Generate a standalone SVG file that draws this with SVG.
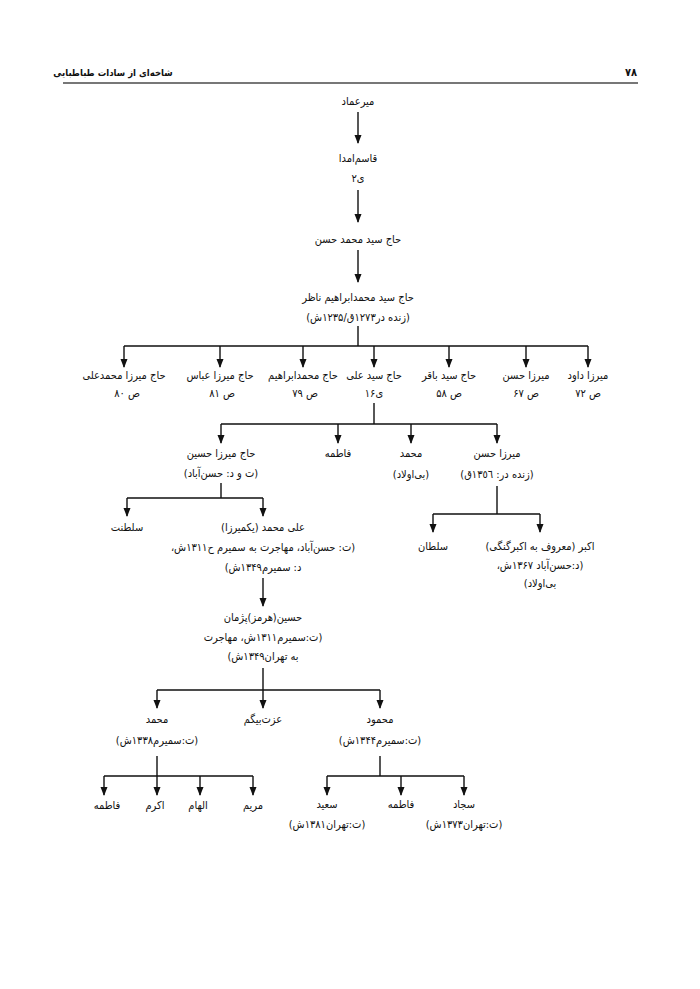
<svg xmlns="http://www.w3.org/2000/svg" width="700" height="989" viewBox="0 0 700 989">
<style>
text{font-family:"DejaVu Sans Condensed","DejaVu Sans",sans-serif;font-size:11px;fill:#111;direction:rtl;text-anchor:middle;}
.hd{font-weight:bold;font-size:9.5px;}
.pg{font-weight:bold;font-size:11px;}
.c{stroke:#111;stroke-width:1.4;fill:none;}
</style>
<rect width="700" height="989" fill="#fff"/>
<g id="header">
<text class="hd" x="113" y="76">شاخه‌ای از سادات طباطبایی</text>
<text class="pg" x="631" y="76">۷۸</text>
<line x1="63" y1="83" x2="638" y2="83" stroke="#777" stroke-width="2"/>
</g>
<g id="connectors">
<path class="c" d="M358,112V143"/>
<path class="c" d="M358,190V222"/>
<path class="c" d="M358,250V282"/>
<path class="c" d="M358,326V346M124,346H588"/>
<path class="c" d="M124,346V367M220,346V367M303,346V367M374,346V367M449,346V367M526,346V367M588,346V367"/>
<path class="c" d="M374,403V424M221,424H497"/>
<path class="c" d="M221,424V443M338,424V443M411,424V443M497,424V443"/>
<path class="c" d="M221,483V498M127,498H263"/>
<path class="c" d="M127,498V516M263,498V516"/>
<path class="c" d="M497,486V514M433,514H540"/>
<path class="c" d="M433,514V532M540,514V532"/>
<path class="c" d="M263,578V606"/>
<path class="c" d="M263,668V690M157,690H380"/>
<path class="c" d="M157,690V708M263,690V708M380,690V708"/>
<path class="c" d="M157,756V776M104,776H253"/>
<path class="c" d="M104,776V795M157,776V795M200,776V795M253,776V795"/>
<path class="c" d="M380,756V776M327,776H464"/>
<path class="c" d="M327,776V795M401,776V795M464,776V795"/>
<g id="arrowheads" fill="#111">
<path d="M354.5,135L361.5,135L358,144Z"/>
<path d="M354.5,214L361.5,214L358,223Z"/>
<path d="M354.5,274L361.5,274L358,283Z"/>
<path d="M120.5,359L127.5,359L124,368Z"/>
<path d="M216.5,359L223.5,359L220,368Z"/>
<path d="M299.5,359L306.5,359L303,368Z"/>
<path d="M370.5,359L377.5,359L374,368Z"/>
<path d="M445.5,359L452.5,359L449,368Z"/>
<path d="M522.5,359L529.5,359L526,368Z"/>
<path d="M584.5,359L591.5,359L588,368Z"/>
<path d="M217.5,435L224.5,435L221,444Z"/>
<path d="M334.5,435L341.5,435L338,444Z"/>
<path d="M407.5,435L414.5,435L411,444Z"/>
<path d="M493.5,435L500.5,435L497,444Z"/>
<path d="M123.5,508L130.5,508L127,517Z"/>
<path d="M259.5,508L266.5,508L263,517Z"/>
<path d="M429.5,524L436.5,524L433,533Z"/>
<path d="M536.5,524L543.5,524L540,533Z"/>
<path d="M259.5,598L266.5,598L263,607Z"/>
<path d="M153.5,700L160.5,700L157,709Z"/>
<path d="M259.5,700L266.5,700L263,709Z"/>
<path d="M376.5,700L383.5,700L380,709Z"/>
<path d="M100.5,787L107.5,787L104,796Z"/>
<path d="M153.5,787L160.5,787L157,796Z"/>
<path d="M196.5,787L203.5,787L200,796Z"/>
<path d="M249.5,787L256.5,787L253,796Z"/>
<path d="M323.5,787L330.5,787L327,796Z"/>
<path d="M397.5,787L404.5,787L401,796Z"/>
<path d="M460.5,787L467.5,787L464,796Z"/>
</g>
</g>
<g id="n-mir-emad"><text x="358" y="105">میرعماد</text></g>
<g id="n-qasem"><text x="358" y="162">قاسم‌امدا</text><text x="358" y="182">ی۲</text></g>
<g id="n-haj-hasan"><text x="358" y="243">حاج سید محمد حسن</text></g>
<g id="n-ebrahim-nazer"><text x="358" y="301">حاج سید محمدابراهیم ناظر</text><text x="358" y="321">(زنده در۱۲۷۳ق/۱۲۳۵ش)</text></g>
<g id="n-mohammadali"><text x="124" y="379">حاج میرزا محمدعلی</text><text x="127" y="397">ص ۸۰</text></g>
<g id="n-abbas"><text x="220" y="379">حاج میرزا عباس</text><text x="222" y="397">ص ۸۱</text></g>
<g id="n-mohammadebrahim"><text x="303" y="379">حاج محمدابراهیم</text><text x="305" y="397">ص ۷۹</text></g>
<g id="n-seyed-ali"><text x="374" y="379">حاج سید علی</text><text x="374" y="397">ی۱۶</text></g>
<g id="n-seyed-baqer"><text x="449" y="379">حاج سید باقر</text><text x="449" y="397">ص ۵۸</text></g>
<g id="n-mirza-hasan"><text x="526" y="379">میرزا حسن</text><text x="526" y="397">ص ۶۷</text></g>
<g id="n-mirza-davood"><text x="588" y="379">میرزا داود</text><text x="588" y="397">ص ۷۲</text></g>
<g id="n-mirza-hossein"><text x="221" y="457">حاج میرزا حسین</text><text x="221" y="477">(ت و د: حسن‌آباد)</text></g>
<g id="n-fatemeh1"><text x="338" y="457">فاطمه</text></g>
<g id="n-mohammad1"><text x="411" y="457">محمد</text><text x="411" y="478">(بی‌اولاد)</text></g>
<g id="n-mirza-hasan2"><text x="497" y="457">میرزا حسن</text><text x="497" y="478">(زنده در: ١٣٥٦ق)</text></g>
<g id="n-saltanat"><text x="127" y="531">سلطنت</text></g>
<g id="n-ali-mohammad"><text x="263" y="531">علی محمد (یکمیرزا)</text><text x="263" y="551">(ت: حسن‌آباد، مهاجرت به سمیرم ح۱۳۱۱ش،</text><text x="263" y="571">د: سمیرم۱۳۴۹ش)</text></g>
<g id="n-soltan"><text x="433" y="550">سلطان</text></g>
<g id="n-akbar"><text x="540" y="550">اکبر (معروف به اکبرگنگی)</text><text x="540" y="569">(د:حسن‌آباد ۱۳۶۷ش،</text><text x="540" y="587">بی‌اولاد)</text></g>
<g id="n-hossein-pezhman"><text x="263" y="621">حسین(هرمز)پژمان</text><text x="263" y="641">(ت:سمیرم۱۳۱۱ش، مهاجرت</text><text x="263" y="660">به تهران۱۳۴۹ش)</text></g>
<g id="n-mohammad2"><text x="157" y="723">محمد</text><text x="157" y="744">(ت:سمیرم۱۳۳۸ش)</text></g>
<g id="n-ezzat"><text x="263" y="723">عزت‌بیگم</text></g>
<g id="n-mahmood"><text x="380" y="723">محمود</text><text x="380" y="744">(ت:سمیرم۱۳۴۴ش)</text></g>
<g id="n-fatemeh2"><text x="107" y="809">فاطمه</text></g>
<g id="n-akram"><text x="155" y="809">اکرم</text></g>
<g id="n-elham"><text x="198" y="809">الهام</text></g>
<g id="n-maryam"><text x="253" y="809">مریم</text></g>
<g id="n-saeed"><text x="327" y="808">سعید</text><text x="327" y="828">(ت:تهران۱۳۸۱ش)</text></g>
<g id="n-fatemeh3"><text x="401" y="808">فاطمه</text></g>
<g id="n-sajjad"><text x="464" y="808">سجاد</text><text x="464" y="828">(ت:تهران۱۳۷۳ش)</text></g>
</svg>
